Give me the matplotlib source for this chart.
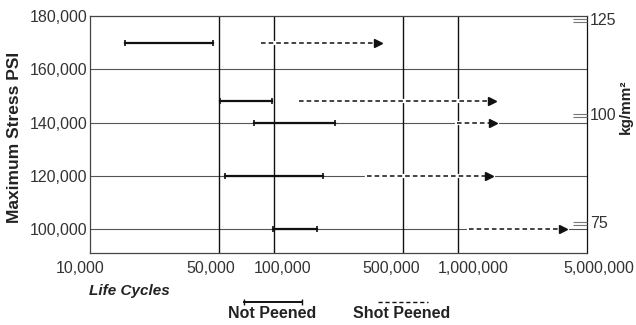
import matplotlib
matplotlib.use("Agg")
import matplotlib.pyplot as plt
from matplotlib.lines import Line2D
from matplotlib.transforms import ScaledTranslation
from matplotlib.ticker import FixedLocator

plt.rcParams['font.family'] = ['Liberation Sans', 'DejaVu Sans']

# stress level of each test row (psi)
stress = [170000, 148000, 140000, 120000, 100000]
# life range, not peened (cycles)
np_start = [15500, 50500, 78000, 54000, 98000]
np_end = [46500, 97000, 215000, 185000, 170000]
# life range, shot peened (runouts, arrowed)
sp_start = [84500, 136000, 990000, 320000, 1150000]
sp_end = [365000, 1530000, 1540000, 1470000, 3700000]

x_ticks = [10000, 50000, 100000, 500000, 1000000, 5000000]
x_labels = ['10,000', '50,000', '100,000', '500,000', '1,000,000', '5,000,000']
y_ticks = [100000, 120000, 140000, 160000, 180000]
y_labels = ['100,000', '120,000', '140,000', '160,000', '180,000']
kg_ticks = [178870, 143230, 102700]
kg_labels = ['125', '100', '75']

fig = plt.figure(figsize=(6.36, 3.25), dpi=100)
ax = fig.add_axes([90 / 636, 1 - 253 / 325, 497 / 636, 237 / 325])

ax.set_xscale('log')
ax.set_xlim(10000, 5000000)
ax.set_ylim(91000, 180000)

# grid
for v in [100000, 120000, 140000, 160000]:
    ax.axhline(v, color='#555555', lw=0.8, zorder=1)
for v in [50000, 100000, 500000, 1000000]:
    ax.axvline(v, color='#111111', lw=1.0, zorder=1)

for y, a, b in zip(stress, np_start, np_end):
    ax.plot([a, b], [y, y], color='#111111', lw=1.6, marker='|',
            markersize=5, markeredgewidth=1.2, zorder=3)

for y, a, b in zip(stress, sp_start, sp_end):
    ax.plot([a, b * 1.05], [y, y], color='white', lw=3, zorder=2)
    ax.plot([a, b], [y, y], color='#111111', lw=1.1, ls=(0, (3, 2)), zorder=3)
    ax.plot([b], [y], marker='>', color='#111111', markersize=6, zorder=3)

for s in ax.spines.values():
    s.set_color('#444444')
    s.set_linewidth(0.9)
ax.spines['right'].set_color('#111111')

ax.set_xticks(x_ticks)
ax.set_xticklabels(x_labels)
ax.xaxis.set_minor_locator(FixedLocator([]))
ax.set_yticks(y_ticks)
ax.set_yticklabels(y_labels)
ax.tick_params(length=0, labelsize=11.5, labelcolor='#333333')
ax.tick_params(axis='y', pad=2)
ax.tick_params(axis='x', pad=6)

shifts = [-10, -7.5, 8, -11.5, 15, 12]
for lab, dx in zip(ax.get_xticklabels(), shifts):
    lab.set_transform(lab.get_transform() + ScaledTranslation(dx / 100, 0, fig.dpi_scale_trans))

ax2 = ax.twinx()
ax2.set_ylim(ax.get_ylim())
ax2.set_yticks(kg_ticks)
ax2.set_yticklabels(kg_labels)
ax2.set_yticks([v - 1300 for v in kg_ticks], minor=True)
ax2.tick_params(axis='y', which='both', direction='in', length=10, width=0.8,
                color='#777777', pad=2, labelsize=11.5, labelcolor='#333333')
for s in ax2.spines.values():
    s.set_visible(False)

fig.text(15 / 636, 1 - 137 / 325, 'Maximum Stress PSI', rotation=90, ha='center',
         va='center', fontsize=12.5, fontweight='bold', color='#222222')
fig.text(626 / 636, 1 - 107 / 325, 'kg/mm²', rotation=90, ha='center',
         va='center', fontsize=11, fontweight='bold', color='#222222')
fig.text(89 / 636, 1 - 291 / 325, 'Life Cycles', ha='left', va='center',
         fontsize=11, fontweight='bold', style='italic', color='#222222')

# legend
fig.add_artist(Line2D([244 / 636, 302 / 636], [1 - 302 / 325] * 2, color='#111111',
                      lw=1.4, marker='|', markersize=4, transform=fig.transFigure))
fig.add_artist(Line2D([378 / 636, 428 / 636], [1 - 302 / 325] * 2, color='#111111',
                      lw=1.0, ls=(0, (3, 2)), transform=fig.transFigure))
fig.text(272 / 636, 1 - 314 / 325, 'Not Peened', ha='center', va='center',
         fontsize=11.5, fontweight='bold', color='#222222')
fig.text(402 / 636, 1 - 314 / 325, 'Shot Peened', ha='center', va='center',
         fontsize=11.5, fontweight='bold', color='#222222')

fig.savefig('out.png', dpi=100)
